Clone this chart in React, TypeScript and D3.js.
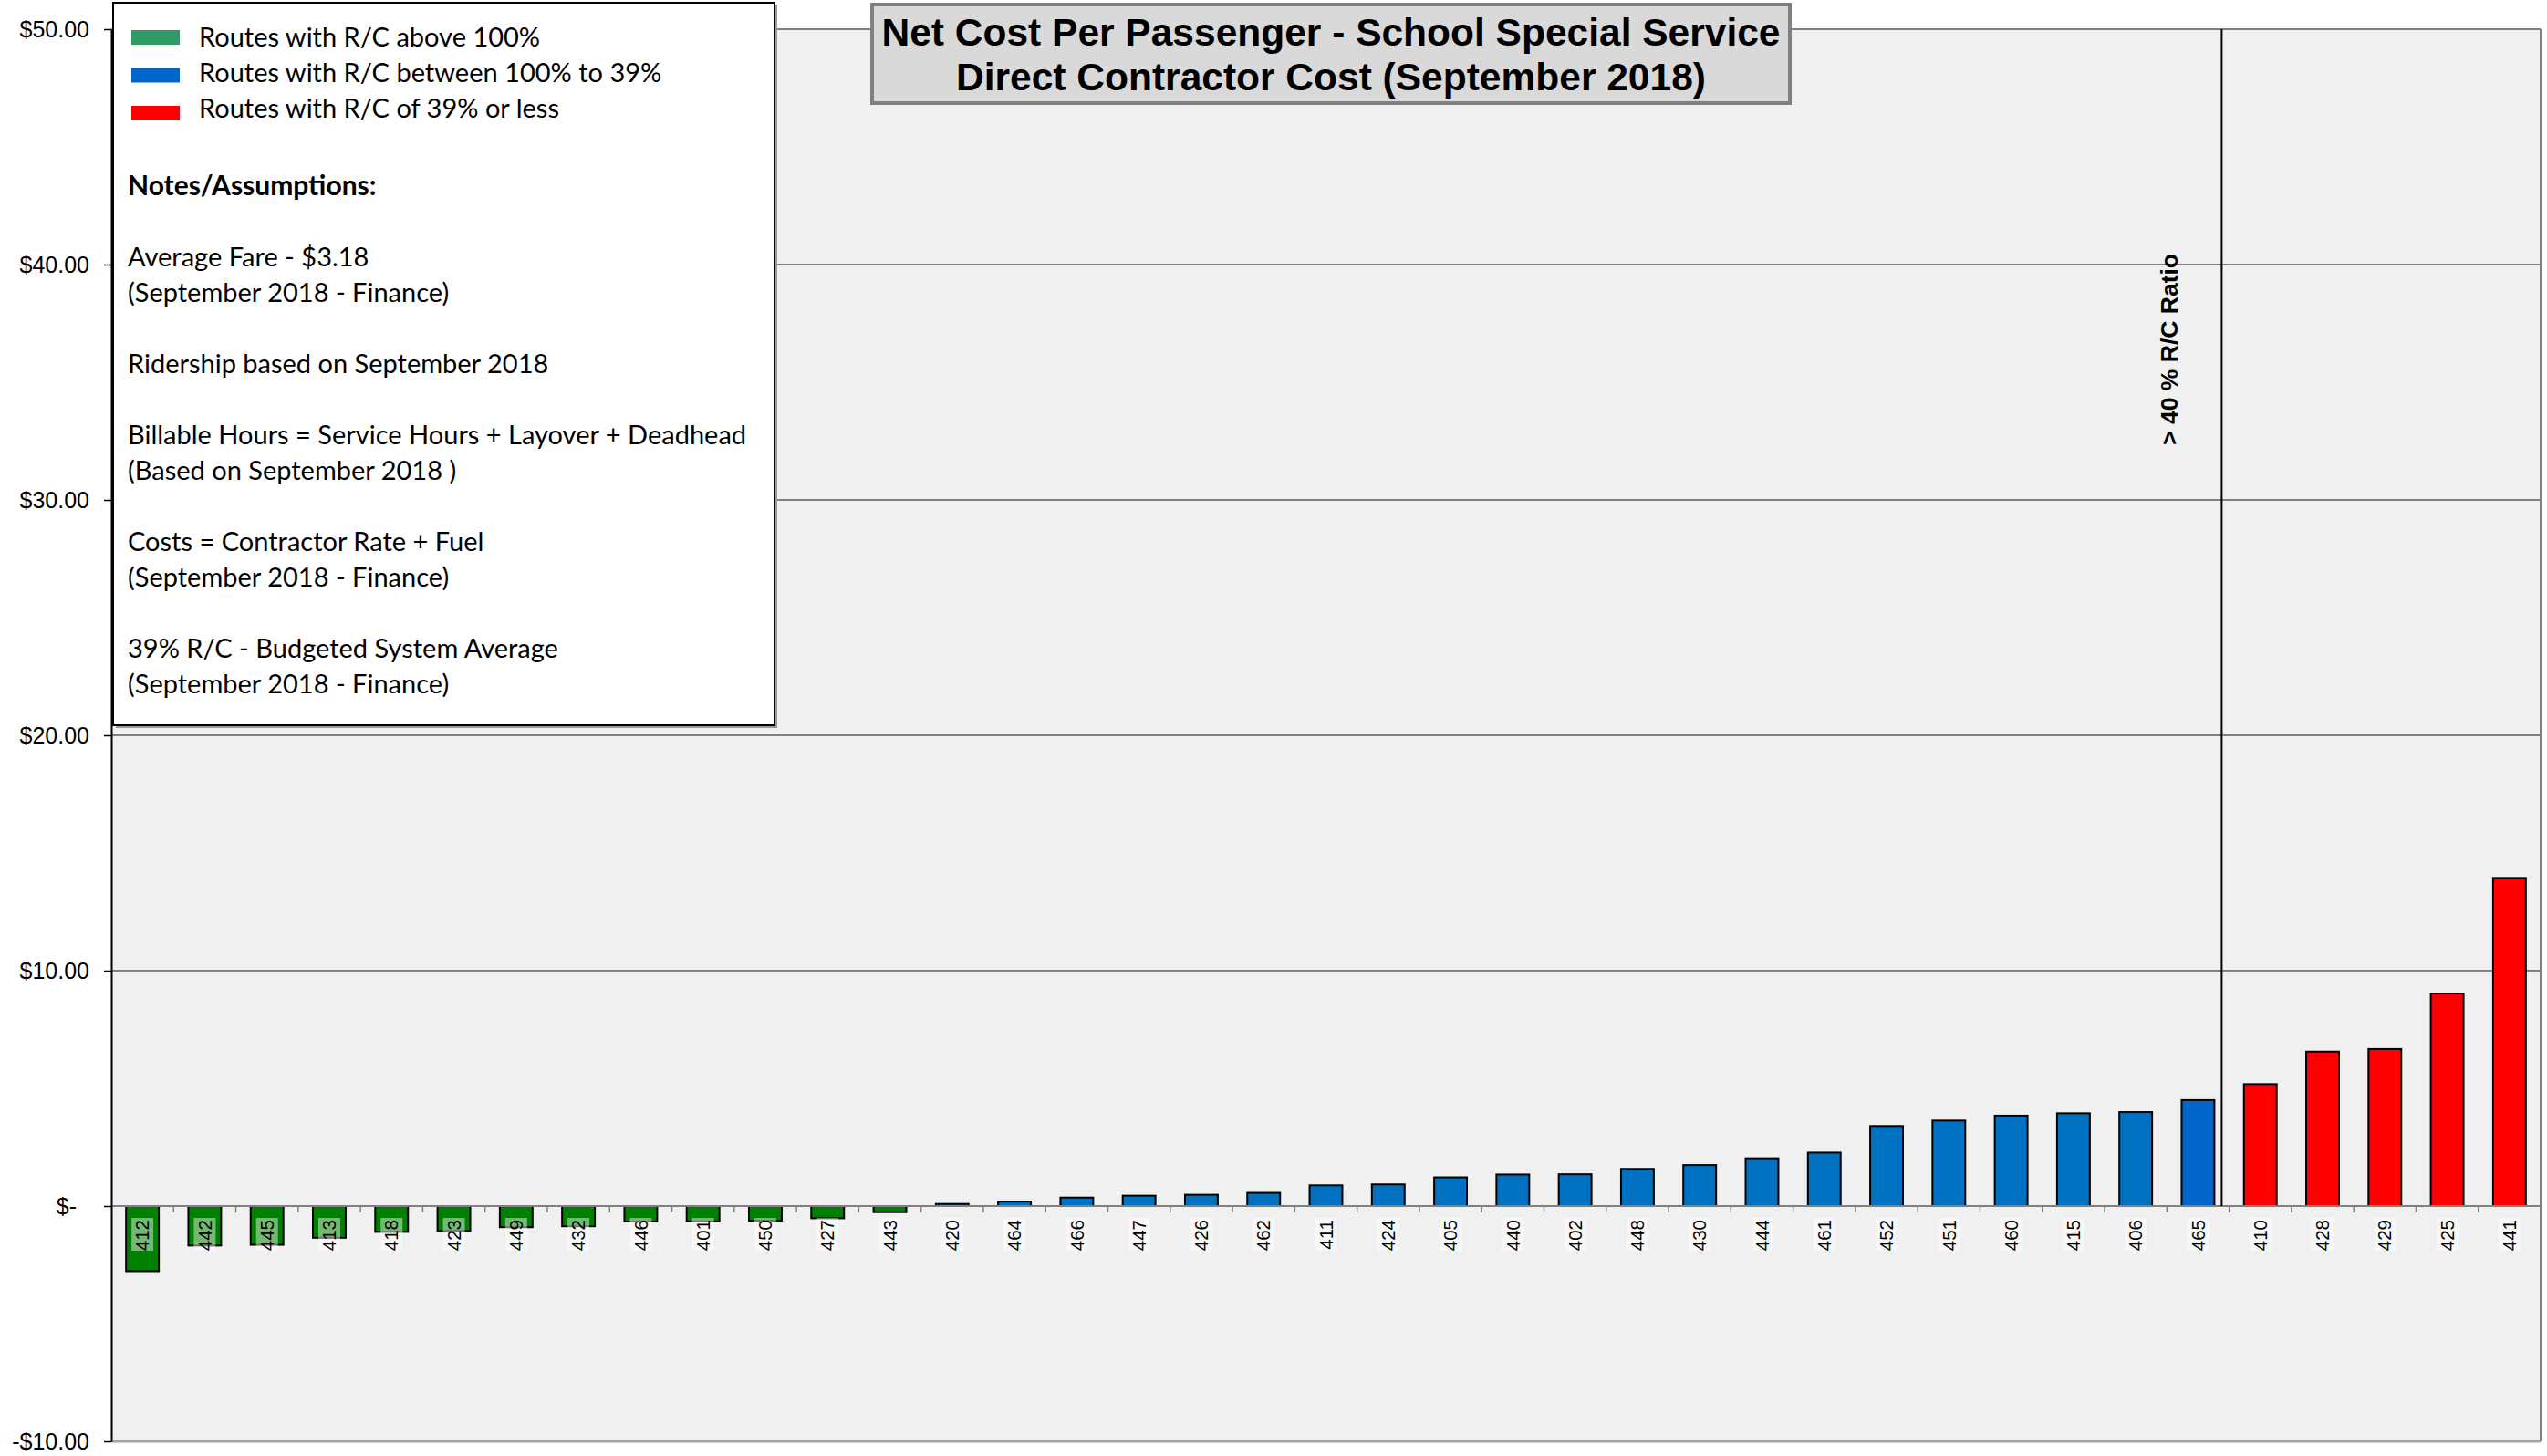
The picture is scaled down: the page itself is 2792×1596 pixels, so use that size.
import { useEffect, useRef } from "react";
import * as d3 from "d3";

// Routes in chart order (sorted by net cost per passenger)
const routes = [
  "412", "442", "445", "413", "418", "423", "449", "432", "446", "401", "450", "427", "443",
  "420", "464", "466", "447", "426", "462", "411", "424", "405", "440", "402", "448", "430",
  "444", "461", "452", "451", "460", "415", "406", "465",
  "410", "428", "429", "425", "441",
];

// Net cost per passenger ($)
const netCost = [
  -2.77, -1.68, -1.65, -1.35, -1.1, -1.06, -0.9, -0.86, -0.66, -0.65, -0.62, -0.52, -0.26,
  0.09, 0.19, 0.36, 0.44, 0.48, 0.56, 0.88, 0.92, 1.22, 1.34, 1.35, 1.58, 1.74,
  2.03, 2.27, 3.4, 3.63, 3.84, 3.94, 3.99, 4.5,
  5.18, 6.56, 6.67, 9.03, 13.94,
];

// R/C tier of each route: A = above 100%, B = between 100% and 39%, C = 39% or less
const rcTier = [
  "A", "A", "A", "A", "A", "A", "A", "A", "A", "A", "A", "A", "A",
  "B", "B", "B", "B", "B", "B", "B", "B", "B", "B", "B", "B", "B",
  "B", "B", "B", "B", "B", "B", "B", "B",
  "C", "C", "C", "C", "C",
];

const tierColor: Record<string, string> = { A: "#008000", B: "#0070C0", C: "#FF0000" };
const edgeRoute = "465";
const edgeColor = "#0066CC";

const yTicks = [-10, 0, 10, 20, 30, 40, 50];
const yTickLabels = ["-$10.00", "$-\u2007", "$10.00", "$20.00", "$30.00", "$40.00", "$50.00"];

const legendLabels = [
  "Routes with R/C above 100%",
  "Routes with R/C between 100% to 39%",
  "Routes with R/C of 39% or less",
];
const legendColors = ["#339966", "#0066CC", "#FF0000"];

const noteLines = [
  "Notes/Assumptions:",
  "Average Fare - $3.18",
  "(September 2018 - Finance)",
  "Ridership based on September 2018",
  "Billable Hours = Service Hours + Layover + Deadhead",
  "(Based on September 2018 )",
  "Costs = Contractor Rate + Fuel",
  "(September 2018 - Finance)",
  "39% R/C - Budgeted System Average",
  "(September 2018 - Finance)",
];
// line slot of each note (blank slots are paragraph gaps)
const noteSlots = [0, 2, 3, 5, 7, 8, 10, 11, 13, 14];

const titleLines = [
  "Net Cost Per Passenger - School Special Service",
  "Direct Contractor Cost (September 2018)",
];

const thresholdLabel = "> 40 % R/C Ratio";

export default function App() {
  const ref = useRef<SVGSVGElement>(null);

  useEffect(() => {
    const width = 2792;
    const height = 1596;
    const marginLeft = 122;
    const marginRight = 7;
    const marginTop = 32;
    const marginBottom = 16;
    const axisFont = "'Liberation Sans', Arial, sans-serif";
    const noteFont = "Lato, 'Open Sans', sans-serif";

    const svg = d3.select(ref.current);
    svg.selectAll("*").remove();

    const x = d3.scaleBand()
      .domain(routes)
      .range([marginLeft, width - marginRight])
      .paddingInner(0.9 / 1.9)
      .paddingOuter(0.45 / 1.9);

    const y = d3.scaleLinear()
      .domain([-10, 50])
      .range([height - marginBottom, marginTop]);

    const [x0, x1] = x.range();
    const y0 = y(0);

    // plot area
    svg.append("rect")
      .attr("x", x0).attr("y", y(50))
      .attr("width", x1 - x0).attr("height", y(-10) - y(50))
      .attr("fill", "#f0f0f0");

    // gridlines
    svg.append("g")
      .selectAll("line")
      .data(yTicks.filter(d => d !== 0))
      .join("line")
        .attr("x1", x0).attr("x2", x1)
        .attr("y1", d => y(d)).attr("y2", d => y(d))
        .attr("stroke", d => d === -10 ? "#a6a6a6" : "#808080")
        .attr("stroke-width", d => d === -10 ? 3 : 2);

    svg.append("line")
      .attr("x1", x1).attr("x2", x1)
      .attr("y1", y(50)).attr("y2", y(-10))
      .attr("stroke", "#808080").attr("stroke-width", 2);

    // bars
    svg.append("g")
      .selectAll("rect")
      .data(routes)
      .join("rect")
        .attr("x", d => x(d)!)
        .attr("width", x.bandwidth())
        .attr("y", (d, i) => Math.min(y(netCost[i]), y0))
        .attr("height", (d, i) => Math.abs(y(netCost[i]) - y0))
        .attr("fill", (d, i) => d === edgeRoute ? edgeColor : tierColor[rcTier[i]])
        .attr("stroke", "#000")
        .attr("stroke-width", 2);

    // zero axis with category ticks
    svg.append("line")
      .attr("x1", x0).attr("x2", x1)
      .attr("y1", y0).attr("y2", y0)
      .attr("stroke", "#808080").attr("stroke-width", 2);

    svg.append("g")
      .selectAll("line")
      .data(d3.range(1, routes.length + 1))
      .join("line")
        .attr("x1", i => x0 + i * x.step()).attr("x2", i => x0 + i * x.step())
        .attr("y1", y0).attr("y2", y0 + 7)
        .attr("stroke", "#808080").attr("stroke-width", 1.5);

    // route labels
    const labels = svg.append("g")
      .selectAll("g")
      .data(routes)
      .join("g")
        .attr("transform", d => `translate(${x(d)! + x.bandwidth() / 2},${y0})`);

    labels.append("rect")
      .attr("x", -12).attr("y", 13)
      .attr("width", 24).attr("height", 36)
      .attr("fill", "#fff").attr("fill-opacity", 0.45);

    labels.append("text")
      .attr("transform", "translate(0,15) rotate(-90)")
      .attr("text-anchor", "end")
      .attr("dy", "0.35em")
      .attr("font-family", axisFont)
      .attr("font-size", 20.5)
      .attr("fill", "#000")
      .text(d => d);

    // y axis
    svg.append("g")
        .attr("transform", `translate(${x0},0)`)
      .call(d3.axisLeft(y)
        .tickValues(yTicks)
        .tickFormat((d, i) => yTickLabels[i])
        .tickSize(8)
        .tickSizeOuter(0)
        .tickPadding(16))
      .call(g => g.select(".domain").attr("stroke", "#000").attr("stroke-width", 2))
      .call(g => g.selectAll(".tick line").attr("stroke", "#000").attr("stroke-width", 1.5))
      .call(g => g.selectAll(".tick text")
        .attr("font-family", axisFont)
        .attr("font-size", 25)
        .attr("fill", "#000"));

    // 40% R/C divider
    const gapMid = (x(edgeRoute)! + x.bandwidth() + x("410")!) / 2;
    const divX = gapMid - 0.12 * x.step();
    svg.append("line")
      .attr("x1", divX).attr("x2", divX)
      .attr("y1", y(50)).attr("y2", y0)
      .attr("stroke", "#000").attr("stroke-width", 2);

    svg.append("text")
      .attr("transform", `translate(${divX - 48},${y(36.4)}) rotate(-90)`)
      .attr("text-anchor", "middle")
      .attr("font-family", axisFont)
      .attr("font-weight", "bold")
      .attr("font-size", 26.5)
      .text(thresholdLabel);

    // legend / notes box
    const legend = svg.append("g");
    legend.append("rect")
      .attr("x", 127).attr("y", 6).attr("width", 725).attr("height", 792)
      .attr("fill", "#9a9a9a");
    legend.append("rect")
      .attr("x", 124).attr("y", 3).attr("width", 725).attr("height", 792)
      .attr("fill", "#fff").attr("stroke", "#000").attr("stroke-width", 2);

    legend.selectAll(".swatch")
      .data(legendLabels)
      .join("rect")
        .attr("class", "swatch")
        .attr("x", 144).attr("y", (d, i) => 33 + i * 41.5)
        .attr("width", 53).attr("height", 16)
        .attr("fill", (d, i) => legendColors[i]);

    legend.selectAll(".legend-label")
      .data(legendLabels)
      .join("text")
        .attr("class", "legend-label")
        .attr("x", 218).attr("y", (d, i) => 51 + i * 38.8)
        .attr("font-family", noteFont)
        .attr("font-size", 29)
        .text(d => d);

    legend.selectAll(".note")
      .data(noteLines)
      .join("text")
        .attr("class", "note")
        .attr("x", 140).attr("y", (d, i) => 214 + noteSlots[i] * 39)
        .attr("font-family", noteFont)
        .attr("font-size", (d, i) => i === 0 ? 30 : 29)
        .attr("font-weight", (d, i) => i === 0 ? "bold" : "normal")
        .text(d => d);

    // title box
    const title = svg.append("g");
    title.append("rect")
      .attr("x", 956).attr("y", 5).attr("width", 1006).attr("height", 108)
      .attr("fill", "#d9d9d9").attr("stroke", "#808080").attr("stroke-width", 4);
    title.selectAll("text")
      .data(titleLines)
      .join("text")
        .attr("x", 1459).attr("y", (d, i) => 50 + i * 49)
        .attr("text-anchor", "middle")
        .attr("font-family", axisFont)
        .attr("font-weight", "bold")
        .attr("font-size", 42.5)
        .text(d => d);
  }, []);

  return (
    <svg
      ref={ref}
      width={2792}
      height={1596}
      viewBox="0 0 2792 1596"
      style={{ position: "absolute", left: 0, top: 0, background: "#fff" }}
    />
  );
}
